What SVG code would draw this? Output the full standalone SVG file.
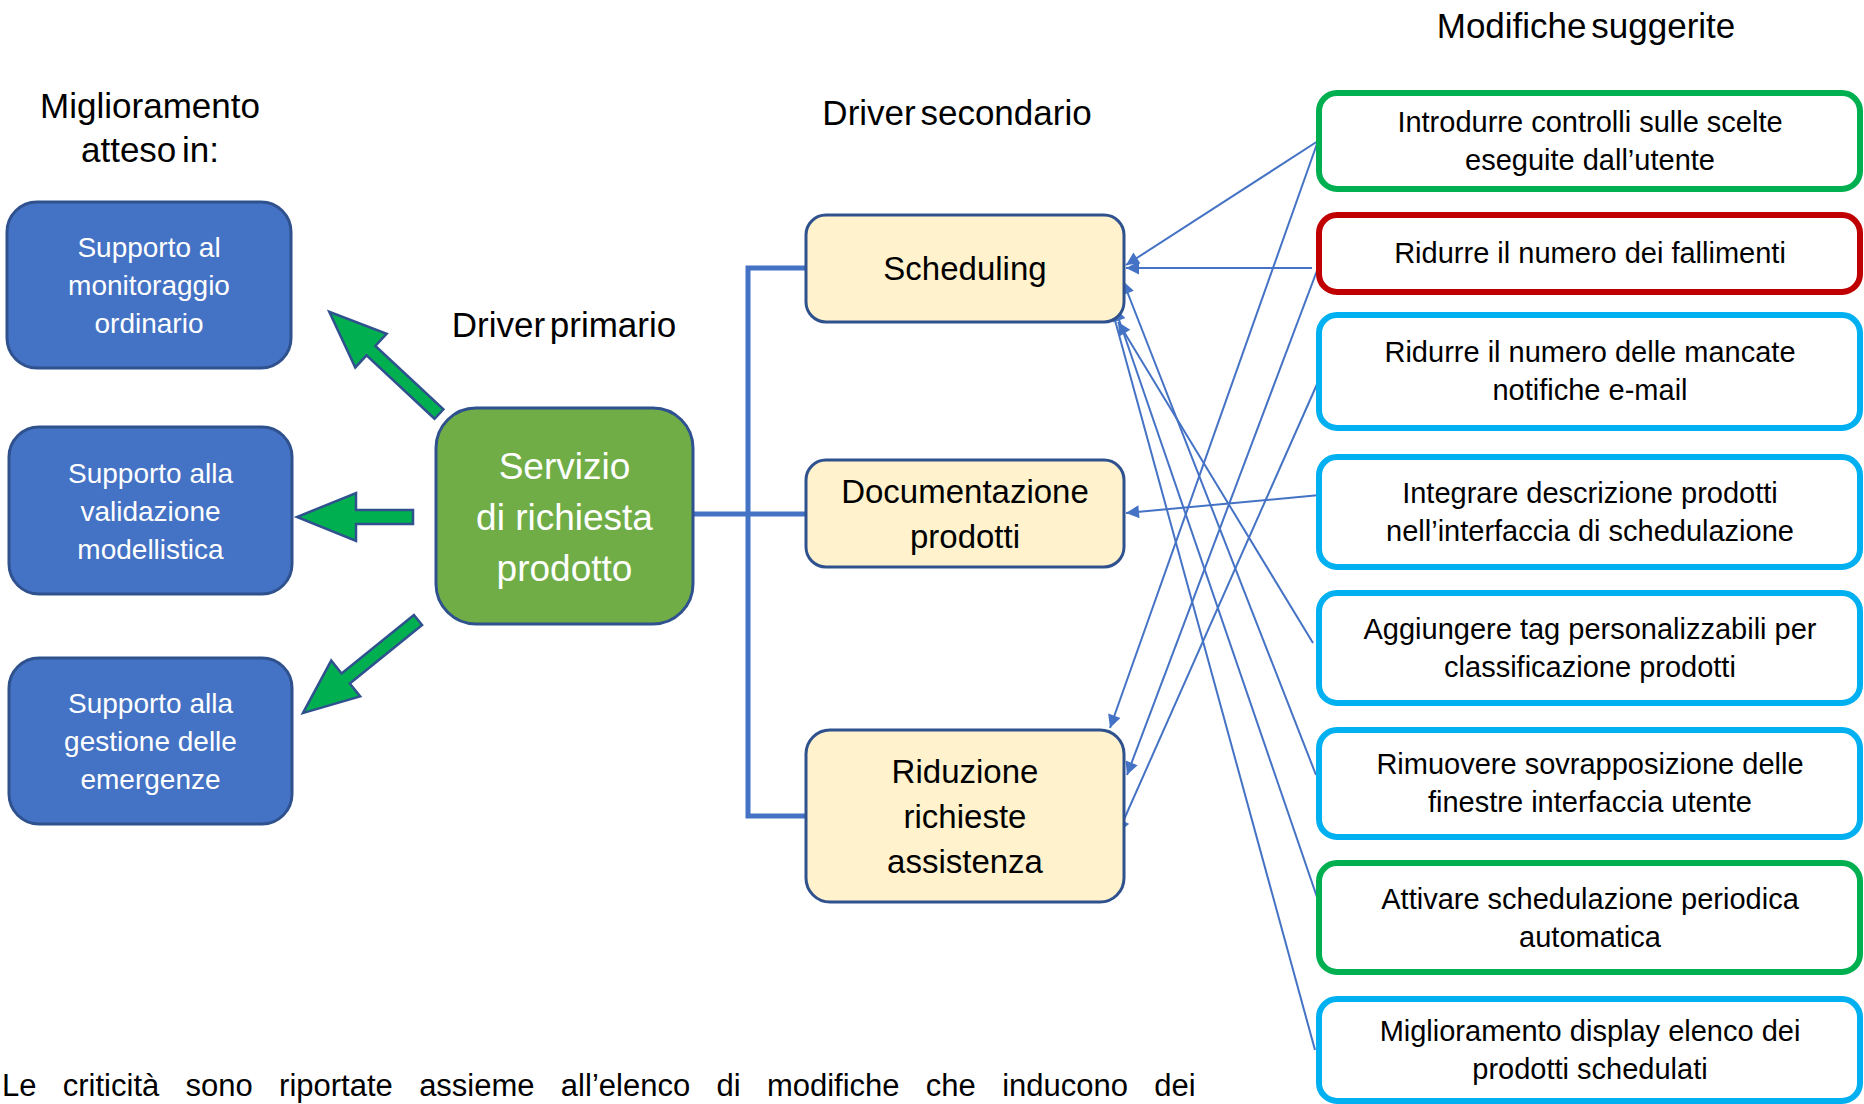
<svg xmlns="http://www.w3.org/2000/svg" width="1864" height="1104" viewBox="0 0 1864 1104">
<style>
text{font-family:"Liberation Sans",Arial,sans-serif;text-anchor:middle;fill:#000}
.hdr{font-size:35px}
.lb{fill:#4472C4;stroke:#2F528F;stroke-width:3}
.lt{font-size:28px;fill:#fff}
.yb{fill:#FFF2CC;stroke:#2F528F;stroke-width:3}
.mt{font-size:33px}
.rb{fill:#fff;stroke-width:6}
.g{stroke:#00B050}.r{stroke:#C00000}.c{stroke:#00B0F0}
.rt{font-size:29px}
.ga{fill:#00B050;stroke:#2F528F;stroke-width:2.5;stroke-linejoin:miter}
.thin{stroke:#4472C4;stroke-width:2;fill:none;marker-end:url(#ah)}
</style>
<defs>
<marker id="ah" viewBox="0 0 10 10" refX="10" refY="5" markerWidth="15" markerHeight="13" markerUnits="userSpaceOnUse" orient="auto">
<path d="M0,0 L10,5 L0,10 Z" fill="#4472C4"/>
</marker>
</defs>
<rect width="1864" height="1104" fill="#fff"/>

<g id="headers">
<text class="hdr" x="150" y="118">Miglioramento</text>
<text class="hdr" x="150" y="162" word-spacing="-4">atteso in:</text>
<text class="hdr" x="564" y="337" word-spacing="-5">Driver primario</text>
<text class="hdr" x="957" y="125" word-spacing="-5">Driver secondario</text>
<text class="hdr" x="1586" y="38" word-spacing="-5">Modifiche suggerite</text>
</g>

<g id="connectors">
<path d="M806,268 H748 V816 H806 M693,514 H806" fill="none" stroke="#4472C4" stroke-width="5"/>
<line class="thin" x1="1318" y1="141" x2="1126" y2="265"/>
<line class="thin" x1="1312" y1="268" x2="1126" y2="268"/>
<line class="thin" x1="1318" y1="141" x2="1110" y2="728"/>
<line class="thin" x1="1318" y1="268" x2="1127" y2="775"/>
<line class="thin" x1="1318" y1="382" x2="1118" y2="833"/>
<line class="thin" x1="1320" y1="495" x2="1126" y2="513"/>
<line class="thin" x1="1313" y1="643" x2="1118" y2="322"/>
<line class="thin" x1="1316" y1="775" x2="1123" y2="281"/>
<line class="thin" x1="1318" y1="900" x2="1115" y2="308"/>
<line class="thin" x1="1315" y1="1050" x2="1110" y2="302"/>
</g>

<g id="green-arrows">
<path class="ga" transform="translate(439,414) rotate(-137.02)" d="M0,-6.5 L93,-6.5 L93,-23 L150,0 L93,23 L93,6.5 L0,6.5 Z"/>
<path class="ga" transform="translate(413,517) rotate(180)" d="M0,-7 L57,-7 L57,-24 L116,0 L57,24 L57,7 L0,7 Z"/>
<path class="ga" transform="translate(418,620) rotate(141.03)" d="M0,-6.5 L93,-6.5 L93,-23 L148,0 L93,23 L93,6.5 L0,6.5 Z"/>
</g>

<g id="sup-monitoraggio">
<rect class="lb" x="7" y="202" width="284" height="166" rx="30"/>
<text class="lt" x="149" y="257">Supporto al</text>
<text class="lt" x="149" y="295">monitoraggio</text>
<text class="lt" x="149" y="333">ordinario</text>
</g>
<g id="sup-validazione">
<rect class="lb" x="9" y="427" width="283" height="167" rx="30"/>
<text class="lt" x="150.5" y="483">Supporto alla</text>
<text class="lt" x="150.5" y="521">validazione</text>
<text class="lt" x="150.5" y="559">modellistica</text>
</g>
<g id="sup-emergenze">
<rect class="lb" x="9" y="658" width="283" height="166" rx="30"/>
<text class="lt" x="150.5" y="713">Supporto alla</text>
<text class="lt" x="150.5" y="751">gestione delle</text>
<text class="lt" x="150.5" y="789">emergenze</text>
</g>

<g id="servizio">
<rect x="436" y="408" width="257" height="216" rx="40" fill="#70AD47" stroke="#2F528F" stroke-width="3"/>
<text x="564.5" y="479" font-size="37" style="fill:#fff">Servizio</text>
<text x="564.5" y="530" font-size="37" style="fill:#fff">di richiesta</text>
<text x="564.5" y="581" font-size="37" style="fill:#fff">prodotto</text>
</g>

<g id="scheduling">
<rect class="yb" x="806" y="215" width="318" height="107" rx="20"/>
<text class="mt" x="965" y="280">Scheduling</text>
</g>
<g id="documentazione">
<rect class="yb" x="806" y="460" width="318" height="107" rx="20"/>
<text class="mt" x="965" y="503">Documentazione</text>
<text class="mt" x="965" y="548">prodotti</text>
</g>
<g id="riduzione">
<rect class="yb" x="806" y="730" width="318" height="172" rx="24"/>
<text class="mt" x="965" y="783">Riduzione</text>
<text class="mt" x="965" y="828">richieste</text>
<text class="mt" x="965" y="873">assistenza</text>
</g>

<g id="m1">
<rect class="rb g" x="1319" y="93" width="541" height="96" rx="18"/>
<text class="rt" x="1590" y="132">Introdurre controlli sulle scelte</text>
<text class="rt" x="1590" y="170">eseguite dall’utente</text>
</g>
<g id="m2">
<rect class="rb r" x="1319" y="215" width="541" height="77" rx="18"/>
<text class="rt" x="1590" y="263">Ridurre il numero dei fallimenti</text>
</g>
<g id="m3">
<rect class="rb c" x="1319" y="315" width="541" height="113" rx="18"/>
<text class="rt" x="1590" y="362">Ridurre il numero delle mancate</text>
<text class="rt" x="1590" y="400">notifiche e-mail</text>
</g>
<g id="m4">
<rect class="rb c" x="1319" y="457" width="541" height="110" rx="18"/>
<text class="rt" x="1590" y="503">Integrare descrizione prodotti</text>
<text class="rt" x="1590" y="541">nell’interfaccia di schedulazione</text>
</g>
<g id="m5">
<rect class="rb c" x="1319" y="593" width="541" height="110" rx="18"/>
<text class="rt" x="1590" y="639">Aggiungere tag personalizzabili per</text>
<text class="rt" x="1590" y="677">classificazione prodotti</text>
</g>
<g id="m6">
<rect class="rb c" x="1319" y="730" width="541" height="107" rx="18"/>
<text class="rt" x="1590" y="774">Rimuovere sovrapposizione delle</text>
<text class="rt" x="1590" y="812">finestre interfaccia utente</text>
</g>
<g id="m7">
<rect class="rb g" x="1319" y="863" width="541" height="109" rx="18"/>
<text class="rt" x="1590" y="909">Attivare schedulazione periodica</text>
<text class="rt" x="1590" y="947">automatica</text>
</g>
<g id="m8">
<rect class="rb c" x="1319" y="999" width="541" height="102" rx="18"/>
<text class="rt" x="1590" y="1041">Miglioramento display elenco dei</text>
<text class="rt" x="1590" y="1079">prodotti schedulati</text>
</g>

<text x="2" y="1096" font-size="31" style="text-anchor:start" word-spacing="17.7">Le criticità sono riportate assieme all’elenco di modifiche che inducono dei</text>
</svg>
